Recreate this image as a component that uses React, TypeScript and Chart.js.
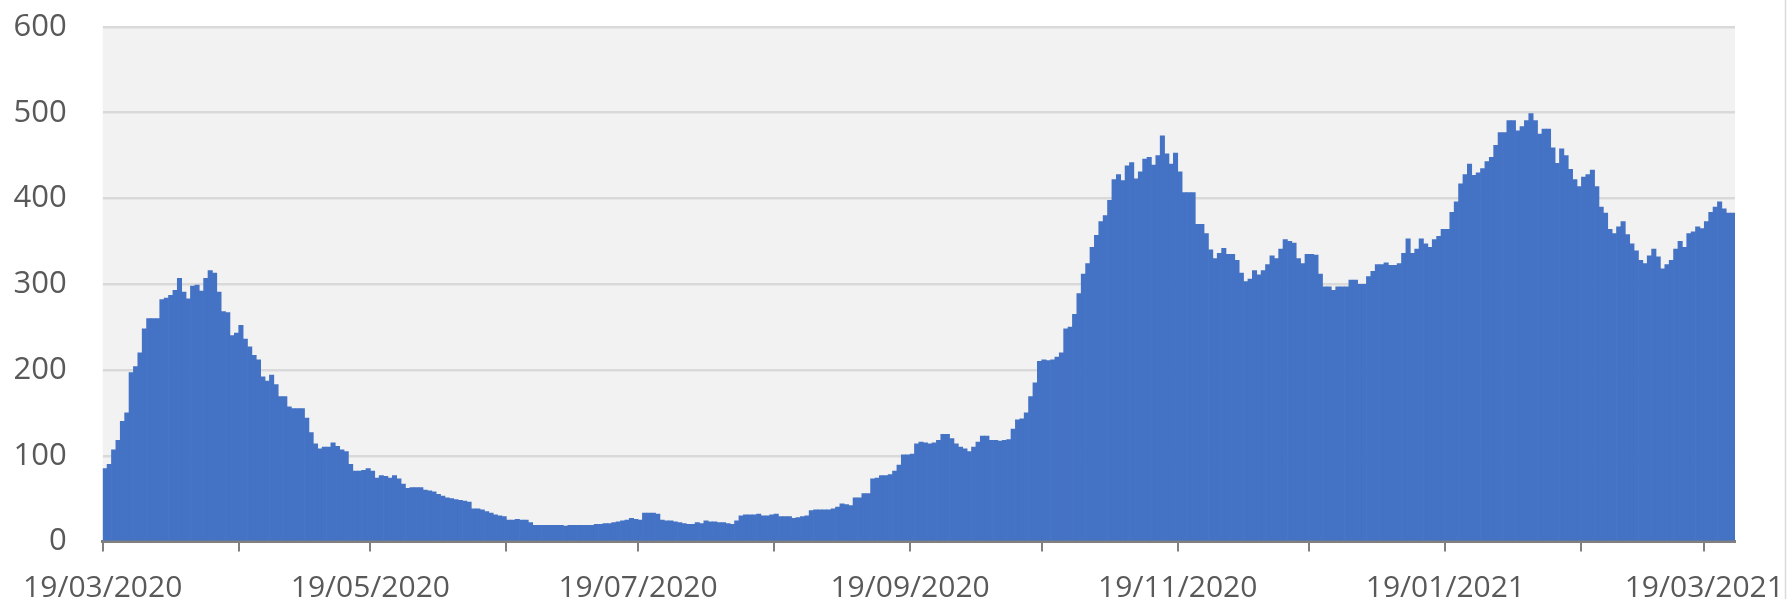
import React, { useEffect, useRef } from "react";
import { Chart, registerables } from "chart.js";

Chart.register(...registerables);

// Daily values starting 19/03/2020, one value per day
const firstWaveValues = [
  85, 90, 107, 118, 140, 150, 197, 204, 220, 248,
  260, 260, 260, 282, 284, 287, 293, 307, 291, 283,
  298, 299, 292, 307, 316, 313, 291, 268, 267, 240,
  243, 252, 236, 227, 217, 212, 192, 187, 194, 183,
  169, 169, 157, 155, 155, 155, 144, 127, 114, 108,
  110, 110, 115, 111, 107, 105, 90, 82, 82, 83,
  85, 82, 74, 77, 76, 74, 77, 73,
];

const summerValues = [
  67, 62, 63, 63, 63, 60, 59, 58, 55, 53,
  51, 50, 49, 48, 47, 46, 38, 38, 37, 35,
  33, 31, 30, 29, 25, 25, 26, 25, 25, 22,
  19, 19, 19, 19, 19, 19, 19, 18, 19, 19,
  19, 19, 19, 19, 20, 20, 21, 21, 22, 23,
  24, 25, 27, 26, 25, 33, 33, 33, 32, 25,
  24, 24, 23, 22, 21, 20, 20, 22, 21, 24,
  23, 23, 22, 22, 21, 20, 24, 30, 31, 31,
  31, 32, 30, 30, 31, 32,
];

const autumnValues = [
  29, 29, 29, 27, 28, 29, 30, 36, 37, 37,
  37, 37, 38, 40, 44, 43, 42, 51, 51, 56,
  56, 73, 74, 77, 77, 78, 82, 89, 101, 101,
  102, 114, 116, 115, 114, 115, 118, 125, 125, 120,
  114, 110, 108, 105, 110, 116, 123, 123, 118, 118,
  117, 118, 119, 131, 142, 143, 150, 169, 185, 210,
  212, 211, 212, 215, 220, 248, 250, 265, 289, 312,
  324, 343, 357, 373, 380, 398, 422, 428, 421, 438,
  442, 423, 431, 446, 448, 439, 450,
];

const winterValues = [
  473, 452, 440, 453, 431, 407, 407, 407, 370, 370,
  359, 340, 330, 336, 342, 335, 335, 328, 313, 303,
  306, 316, 311, 316, 323, 333, 330, 341, 352, 350,
  348, 330, 324, 335, 335, 334, 312, 297, 297, 293,
  297, 297, 297, 305, 305, 300, 300, 309, 315, 323,
  323, 325, 322, 322, 324, 336, 353, 336, 341, 353,
  347, 343, 352, 356, 364, 364,
];

const springValues = [
  384, 396, 417, 428, 440, 427, 430, 435, 443, 448,
  462, 477, 477, 491, 491, 479, 484, 491, 499, 491,
  475, 481, 481, 459, 441, 458, 450, 434, 422, 414,
  425, 428, 433, 414, 390, 383, 364, 359, 367, 373,
  358, 347, 339, 328, 324, 333, 341, 332, 318, 323,
  328, 341, 350, 343, 359, 361, 367, 365, 373, 384,
  390, 396, 388, 383, 383,
];

const dailyValues = [
  ...firstWaveValues,
  ...summerValues,
  ...autumnValues,
  ...winterValues,
  ...springValues,
];

const startDate = [2020, 2, 19]; // 19/03/2020 (month is 0-based)

// Monthly tick marks; every other one carries a label
const tickDates = [
  [2020, 2, 19], [2020, 3, 19], [2020, 4, 19], [2020, 5, 19],
  [2020, 6, 19], [2020, 7, 19], [2020, 8, 19], [2020, 9, 19],
  [2020, 10, 19], [2020, 11, 19], [2021, 0, 19], [2021, 1, 19],
  [2021, 2, 19],
];
const tickLabels = [
  "19/03/2020", "", "19/05/2020", "",
  "19/07/2020", "", "19/09/2020", "",
  "19/11/2020", "", "19/01/2021", "",
  "19/03/2021",
];

const yTicks = [0, 100, 200, 300, 400, 500, 600];

const DAY = 86400000;
const dayOffset = (d: number[]) =>
  Math.round((Date.UTC(d[0], d[1], d[2]) - Date.UTC(startDate[0], startDate[1], startDate[2])) / DAY);

const tickOffsets = tickDates.map(dayOffset);

export default function App() {
  const canvasRef = useRef<HTMLCanvasElement | null>(null);

  useEffect(() => {
    const canvas = canvasRef.current;
    if (!canvas) return;

    const points = dailyValues.map((v, i) => ({ x: i + 0.5, y: v }));

    const plotBackground = {
      id: "plotBackground",
      beforeDraw(chart: any) {
        const { ctx, chartArea } = chart;
        ctx.save();
        ctx.fillStyle = "#F2F2F2";
        ctx.fillRect(chartArea.left, chartArea.top, chartArea.right - chartArea.left, chartArea.bottom - chartArea.top);
        ctx.restore();
      },
      afterDraw(chart: any) {
        const { ctx } = chart;
        ctx.save();
        ctx.strokeStyle = "#D9D9D9";
        ctx.lineWidth = 1.5;
        ctx.beginPath();
        ctx.moveTo(1785.5, 0);
        ctx.lineTo(1785.5, 599);
        ctx.stroke();
        ctx.restore();
      },
    };

    const chart = new Chart(canvas, {
      type: "bar",
      data: {
        datasets: [
          {
            data: points,
            backgroundColor: "#4472C4",
            borderWidth: 0,
            barPercentage: 1,
            categoryPercentage: 1,
          },
        ],
      },
      options: {
        animation: false,
        responsive: false,
        devicePixelRatio: 1,
        layout: { padding: { left: 0, right: 52, top: 27, bottom: 0 } },
        plugins: { legend: { display: false }, tooltip: { enabled: false } },
        scales: {
          x: {
            type: "linear",
            min: 0,
            max: dailyValues.length,
            z: 1,
            offset: false,
            afterBuildTicks(scale: any) {
              scale.ticks = tickOffsets.map((v) => ({ value: v }));
            },
            afterFit(scale: any) {
              scale.height = 57.5;
              scale.paddingLeft = 0;
              scale.paddingRight = 0;
            },
            ticks: {
              autoSkip: false,
              maxRotation: 0,
              minRotation: 0,
              padding: 19,
              color: "#595959",
              font: { family: "'Open Sans'", size: 30 },
              callback: (_v: any, i: number) => tickLabels[i] ?? "",
            },
            grid: {
              display: true,
              offset: false,
              drawOnChartArea: false,
              drawTicks: true,
              tickLength: 10,
              color: "#808080",
              lineWidth: 2,
            },
            border: { display: true, color: "#808080", width: 3 },
          },
          y: {
            min: 0,
            max: 600,
            afterBuildTicks(scale: any) {
              scale.ticks = yTicks.map((v) => ({ value: v }));
            },
            afterFit(scale: any) {
              scale.width = 102.7;
              scale.paddingTop = 0;
              scale.paddingBottom = 0;
            },
            ticks: {
              padding: 36,
              color: "#595959",
              font: { family: "'Open Sans'", size: 31 },
            },
            grid: {
              color: "#D9D9D9",
              lineWidth: 2.5,
              drawTicks: false,
            },
            border: { display: false },
          },
        },
      },
      plugins: [plotBackground],
    });

    return () => chart.destroy();
  }, []);

  return (
    <div style={{ position: "absolute", left: 0, top: 0, width: 1787, height: 599, background: "#ffffff" }}>
      <canvas ref={canvasRef} width={1787} height={599} />
    </div>
  );
}
